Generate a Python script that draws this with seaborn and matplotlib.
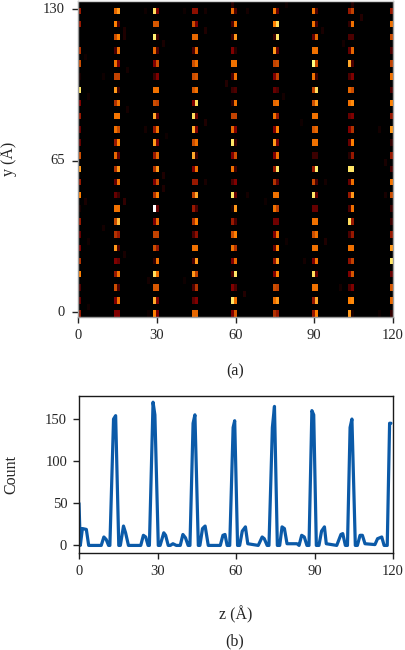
import numpy as np
import pandas as pd
import matplotlib
matplotlib.use('Agg')
import matplotlib.pyplot as plt
import seaborn as sns

sns.set_theme(style="ticks")
plt.rcParams['font.family'] = ['Liberation Serif', 'DejaVu Serif']

# top map: grid size and which columns hold the layers
n_rows = 48
n_cols = 105
z_max = 120
y_low = -2.1
y_high = 133.6
peak_cols = [12, 25, 38, 51, 65, 78, 90]

# edge layers only show one cell (top row first)
edge_left = [30, 30, 0, 35, 40, 5, 70, 25, 30, 20, 20, 40,
             55, 30, 50, 5, 30, 20, 25, 35, 50, 15, 20, 30]
edge_right = [30, 47, 40, 15, 38, 47, 15, 50, 30, 55, 10, 30,
              15, 48, 40, 12, 12, 30, 55, 70, 20, 42, 45, 10]

# (left cell, right cell) per populated row, top row first
layer_14 = [(45, 55), (50, 15), (40, 50), (15, 47), (47, 25), (38, 38), (55, 12), (35, 47), (48, 48), (47, 40), (30, 50), (45, 20),
            (35, 55), (20, 47), (20, 12), (47, 47), (40, 62), (35, 30), (55, 15), (25, 20), (30, 47), (40, 15), (25, 47), (25, 25)]
layer_29 = [(68, 25), (42, 42), (72, 12), (45, 15), (25, 40), (12, 25), (47, 47), (40, 38), (58, 20), (30, 47), (55, 25), (30, 45),
            (35, 55), (25, 40), (35, 50), (100, 20), (25, 45), (38, 38), (40, 30), (10, 47), (68, 47), (42, 42), (58, 25), (50, 25)]
layer_44 = [(28, 28), (40, 25), (45, 45), (15, 45), (40, 47), (40, 42), (42, 47), (25, 68), (68, 20), (58, 25), (40, 47), (58, 12),
            (25, 47), (30, 30), (38, 58), (30, 15), (35, 50), (15, 28), (47, 47), (15, 55), (55, 38), (15, 35), (18, 25), (45, 45)]
layer_59 = [(45, 15), (15, 47), (12, 55), (25, 8), (47, 47), (15, 47), (12, 15), (10, 47), (38, 38), (45, 25), (70, 12), (25, 40),
            (47, 12), (15, 25), (70, 20), (5, 55), (30, 15), (40, 50), (47, 35), (25, 45), (15, 70), (25, 15), (70, 47), (25, 42)]
layer_74 = [(47, 20), (50, 68), (12, 70), (55, 20), (38, 40), (25, 38), (20, 15), (45, 47), (47, 30), (25, 50), (55, 25), (25, 47),
            (30, 70), (35, 20), (47, 47), (47, 38), (22, 22), (25, 47), (20, 50), (30, 55), (25, 50), (40, 38), (47, 55), (35, 30)]
layer_89 = [(47, 15), (47, 15), (20, 45), (47, 47), (75, 40), (47, 12), (38, 68), (40, 55), (47, 47), (42, 45), (47, 47), (12, 12),
            (30, 72), (38, 15), (70, 20), (20, 20), (47, 47), (40, 47), (47, 47), (25, 47), (68, 20), (47, 47), (30, 58), (30, 50)]
layer_104 = [(30, 38), (10, 47), (15, 15), (20, 45), (58, 15), (15, 25), (45, 40), (47, 52), (20, 25), (25, 35), (20, 50), (8, 30),
             (70, 70), (20, 47), (30, 55), (15, 47), (68, 30), (15, 30), (47, 47), (28, 38), (25, 42), (15, 25), (50, 52), (55, 5)]

# faint spots between the layers
faint_col = [15, 15, 28, 42, 16, 49, 22, 35, 42, 42, 29, 22, 2, 3, 16, 8, 51, 56, 81, 94, 88, 91, 69, 68, 74, 100,
             28, 28, 15, 2, 8, 42, 15, 23, 3, 3, 23, 35, 82, 55, 56, 82, 102, 62, 102, 75, 87, 69, 100]
faint_row = [4, 5, 6, 4, 10, 12, 1, 1, 1, 18, 20, 19, 8, 14, 16, 11, 0, 1, 4, 2, 6, 0, 0, 14, 18, 19,
             26, 28, 30, 30, 34, 27, 38, 42, 36, 46, 47, 42, 36, 44, 29, 27, 24, 30, 29, 39, 43, 36, 47]
faint_val = [6, 6, 5, 6, 4, 7, 3, 3, 4, 6, 3, 4, 3, 3, 4, 3, 8, 4, 5, 7, 4, 7, 3, 4, 3, 4,
             6, 6, 10, 5, 4, 5, 5, 4, 3, 3, 3, 3, 6, 7, 4, 4, 5, 3, 5, 4, 4, 3, 3]

# bottom profile
z_line = [0, 0.5, 1.3, 2.8, 3.7, 8.5, 9.5, 10.4, 11.3, 11.8, 13.2, 14, 15.2, 15.8, 17, 17.8, 18.9, 23.6, 24.6, 25.5, 26.4, 26.9,
          28.3, 29, 30.3, 31, 32.4, 33.1, 34.1, 34.9, 35.9, 37.2, 38.7, 39.7, 40.7, 41.7, 42.4, 43.6, 44.3, 45.6, 46.2, 47.2, 48.2, 49.4,
          54, 55, 55.8, 56.6, 57.6, 58.9, 59.5, 60.6, 61.4, 62.4, 63.6, 64.5, 68.5, 70, 70.8, 71.9, 72.6, 73.9, 74.7, 75.8, 76.7, 77.6,
          78.5, 79.5, 83.3, 84.1, 85.1, 86.1, 87.1, 87.9, 89, 89.7, 90.7, 91.7, 92.7, 93.8, 94.5, 98.5, 100.1, 100.8, 101.8, 102.6,
          103.6, 104.3, 105.6, 106.4, 107.4, 108.3, 109.3, 113.1, 114.1, 115.7, 116.6, 117.8, 118.7, 119.2]
count_line = [50, 0, 20, 19, 0, 0, 10, 7, 0, 0, 150, 154, 0, 0, 23, 15, 0, 0, 12, 10, 0, 0,
              170, 155, 0, 0, 15, 12, 0, 0, 2, 0, 0, 13, 9, 0, 0, 145, 155, 0, 0, 20, 23, 0,
              0, 12, 13, 0, 0, 140, 148, 0, 0, 17, 22, 2, 0, 10, 8, 0, 0, 140, 165, 0, 0, 22,
              20, 2, 2, 0, 12, 10, 0, 0, 160, 155, 0, 0, 17, 22, 2, 0, 13, 14, 0, 0,
              140, 150, 0, 0, 12, 12, 2, 1, 8, 10, 0, 0, 145, 145]

x_ticks = [0, 30, 60, 90, 120]
y_ticks = [0, 65, 130]
count_ticks = [0, 50, 100, 150]

# build the grid
grid = np.zeros((n_rows, n_cols))
for c, r, v in zip(faint_col, faint_row, faint_val):
    grid[r, c] = v
layers = [layer_14, layer_29, layer_44, layer_59, layer_74, layer_89, layer_104]
for i in range(24):
    r = 2 * i + 1
    grid[r, 0] = edge_left[i]
    grid[r, 104] = edge_right[i]
    for col, layer in zip(peak_cols, layers):
        grid[r, col] = layer[i][0]
        grid[r, col + 1] = layer[i][1]

W, H = 405, 650
fig = plt.figure(figsize=(W / 100, H / 100), dpi=100)
ax1 = fig.add_axes([78 / W, 1 - 317 / H, 315 / W, 316 / H])
ax2 = fig.add_axes([79 / W, 1 - 553 / H, 314 / W, 157.3 / H])

sns.heatmap(grid, ax=ax1, cmap='afmhot', vmin=0, vmax=100, cbar=False)
ax1.set_xticks([z / z_max * n_cols for z in x_ticks])
ax1.set_xticklabels(x_ticks, rotation=0)
ax1.set_yticks([(y_high - y) / (y_high - y_low) * n_rows for y in y_ticks])
ax1.set_yticklabels(y_ticks, rotation=0)
ax1.set_ylabel('y (Å)', fontsize=11.5)
ax1.yaxis.set_label_coords(-0.194, 0.5)
ax1.set_xlabel('')
for s in ax1.spines.values():
    s.set_visible(True)
    s.set_color('#9a9a9a')
    s.set_linewidth(1.0)
ax1.spines['top'].set_color('#cfcfcf')
ax1.tick_params(length=4.5, width=1, color='#222222', labelsize=10.5)
ax1.tick_params(axis='y', pad=5)
ax1.tick_params(axis='x', pad=4.5)

df = pd.DataFrame({'z': z_line, 'count': count_line})
sns.lineplot(data=df, x='z', y='count', ax=ax2, sort=False, errorbar=None,
             color='#0b5aa8', linewidth=2.3)
ax2.set_xlim(0, 120)
ax2.set_ylim(-9, 177.7)
ax2.set_xticks(x_ticks)
ax2.set_yticks(count_ticks)
ax2.set_xlabel('z (Å)', fontsize=11.5, labelpad=20)
ax2.set_ylabel('Count', fontsize=11.5)
ax2.yaxis.set_label_coords(-0.19, 0.5)
for s in ax2.spines.values():
    s.set_color('#1a1a1a')
    s.set_linewidth(1.0)
ax2.tick_params(length=4.5, width=1, color='#222222', labelsize=10.5)
ax2.tick_params(axis='y', pad=4)
ax2.tick_params(axis='x', pad=4)

fig.text(235 / W, 1 - 371 / H, '(a)', ha='center', va='center', fontsize=11.5, color='#222222')
fig.text(235 / W, 1 - 641 / H, '(b)', ha='center', va='center', fontsize=11.5, color='#222222')

plt.savefig('out.png', dpi=100)
